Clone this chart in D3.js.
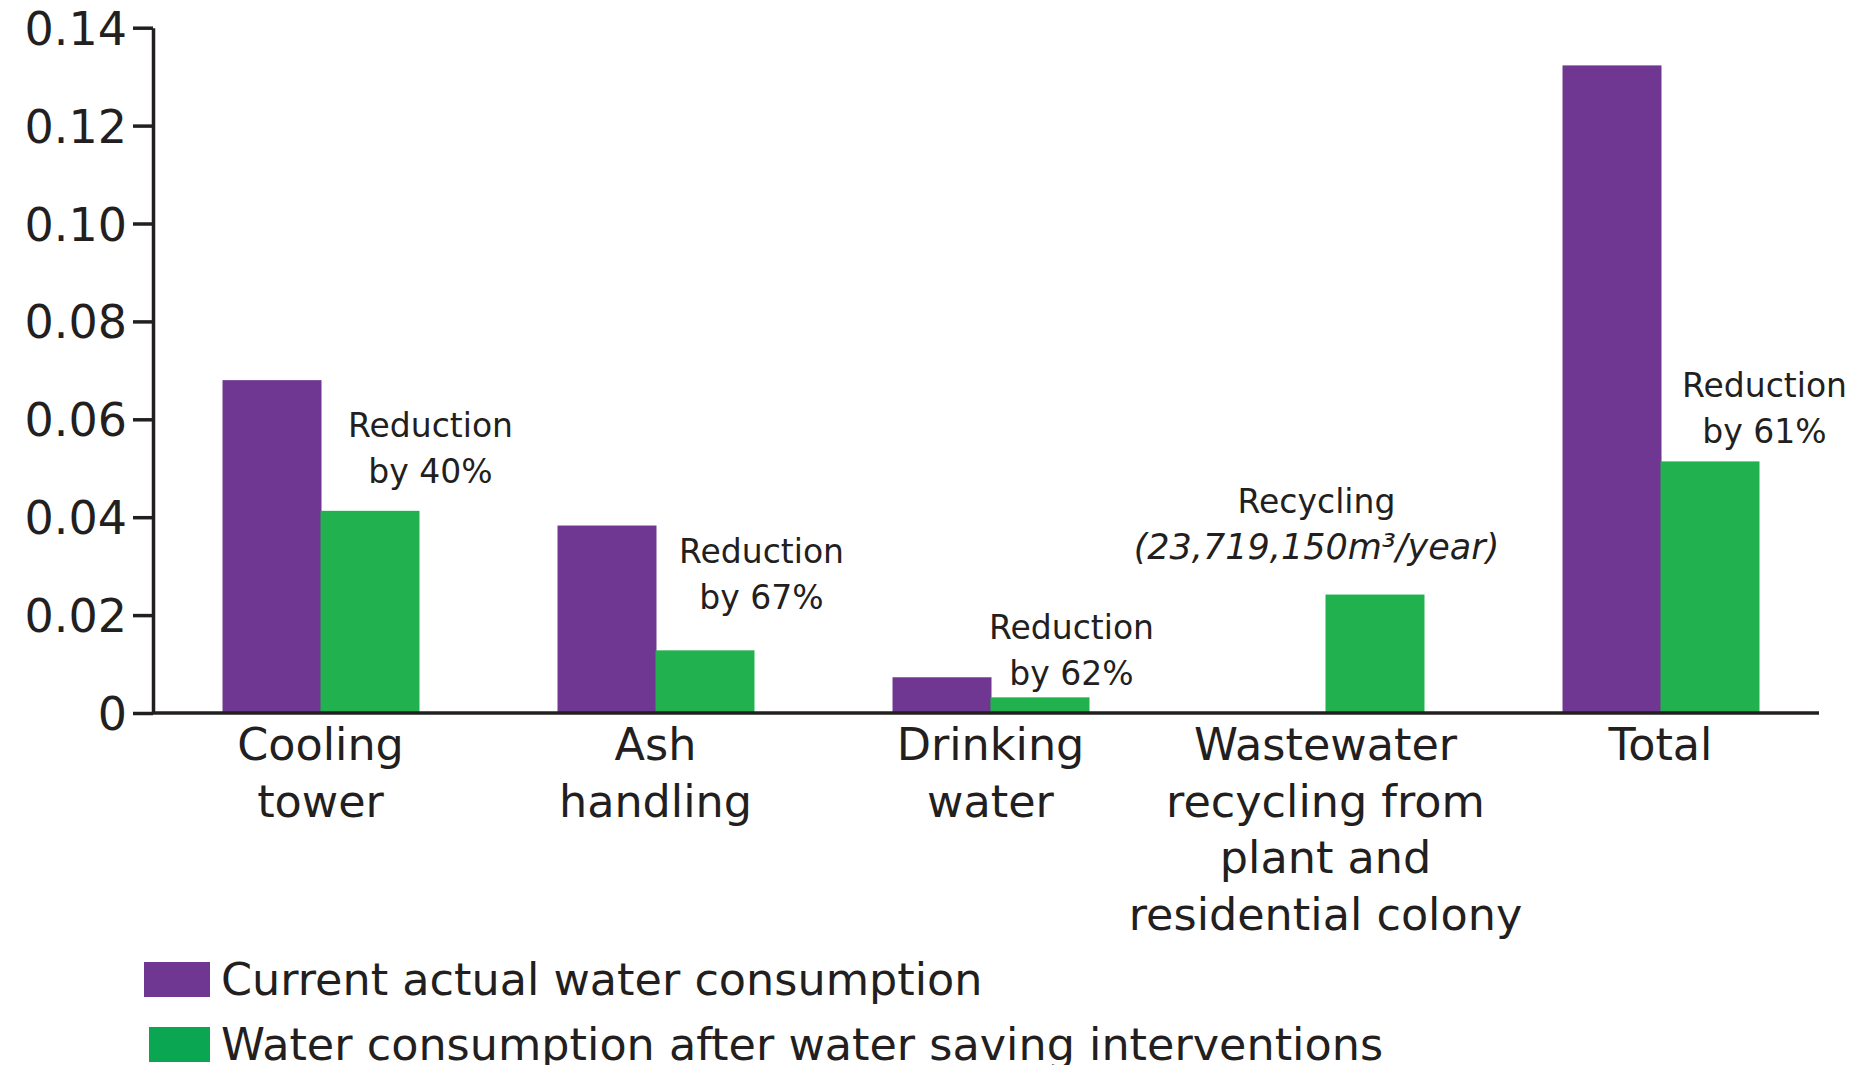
<!DOCTYPE html>
<html>
<head>
<meta charset="utf-8">
<script src="https://cdn.jsdelivr.net/npm/d3@7"></script>
<style>
  html, body { margin: 0; padding: 0; background: #fff; }
  svg { display: block; }
  text { font-family: "DejaVu Sans", sans-serif; fill: #231f20; }
</style>
</head>
<body>
<svg id="chart" width="1862" height="1065"></svg>
<script>
// ---- data ----
const categories = ["Cooling tower", "Ash handling", "Drinking water", "Wastewater recycling from plant and residential colony", "Total"];
const categoryLines = [["Cooling", "tower"], ["Ash", "handling"], ["Drinking", "water"], ["Wastewater", "recycling from", "plant and", "residential colony"], ["Total"]];
const currentValues = [0.068, 0.0383, 0.0073, null, 0.1323];
const afterValues = [0.0413, 0.0128, 0.0032, 0.0242, 0.0514];
const seriesNames = ["Current actual water consumption", "Water consumption after water saving interventions"];
const yTicks = [0, 0.02, 0.04, 0.06, 0.08, 0.10, 0.12, 0.14];
const yTickLabels = ["0", "0.02", "0.04", "0.06", "0.08", "0.10", "0.12", "0.14"];
const annotations = [
  { cat: 0, lines: ["Reduction", "by 40%"] },
  { cat: 1, lines: ["Reduction", "by 67%"] },
  { cat: 2, lines: ["Reduction", "by 62%"] },
  { cat: 3, lines: ["Recycling", "(23,719,150m³/year)"] },
  { cat: 4, lines: ["Reduction", "by 61%"] }
];

// ---- layout ----
const colors = { current: "#6f3791", after: "#21b14f", afterLegend: "#0aa651" };
const svg = d3.select("#chart");
const axisX = 153;
const y = d3.scaleLinear().domain([0, 0.14]).range([713, 27.7]);
const x = d3.scaleBand().domain(categories).range([153, 1828]).paddingInner(0.415).paddingOuter(0.2075);
const xs = d3.scaleBand().domain([0, 1]).range([0, x.bandwidth()]);

// bars
const g = svg.append("g");
categories.forEach((c, i) => {
  [currentValues[i], afterValues[i]].forEach((v, s) => {
    if (v == null) return;
    g.append("rect")
      .attr("x", x(c) + xs(s))
      .attr("width", xs.bandwidth() + 1)
      .attr("y", y(v))
      .attr("height", y(0) - y(v))
      .attr("fill", s === 0 ? colors.current : colors.after);
  });
});

// y axis
const yAxis = d3.axisLeft(y)
  .tickValues(yTicks)
  .tickFormat((d, i) => yTickLabels[i])
  .tickSizeInner(20)
  .tickSizeOuter(0)
  .tickPadding(6);
const ya = svg.append("g").attr("transform", `translate(${axisX},0)`).call(yAxis);
ya.select(".domain").attr("stroke", "#231f20").attr("stroke-width", 3.5);
ya.selectAll(".tick line").attr("stroke", "#231f20").attr("stroke-width", 3.5);
ya.selectAll(".tick text")
  .attr("font-family", "DejaVu Sans, sans-serif")
  .attr("font-size", 46)
  .attr("fill", "#2a2a2a")
  .attr("dy", "0.36em");

// x axis line
svg.append("line")
  .attr("x1", axisX).attr("x2", 1819)
  .attr("y1", y(0)).attr("y2", y(0))
  .attr("stroke", "#231f20").attr("stroke-width", 3.5);

// category labels
categories.forEach((c, i) => {
  const cx = x(c) + x.bandwidth() / 2;
  const t = svg.append("text")
    .attr("x", cx).attr("y", 760)
    .attr("text-anchor", "middle")
    .attr("font-size", 44.5);
  categoryLines[i].forEach((ln, k) => {
    t.append("tspan").attr("x", cx).attr("y", 760 + k * 56.5).text(ln);
  });
});

// annotations (offset from group centre, baseline of first line)
const annoPos = [
  { dx: 110, y: 437 },
  { dx: 106, y: 563 },
  { dx: 81, y: 639 },
  { dx: -9, y: 513 },
  { dx: 104, y: 397 }
];
annotations.forEach((a, i) => {
  const c = categories[a.cat];
  const center = x(c) + x.bandwidth() / 2 + annoPos[i].dx;
  const t = svg.append("text")
    .attr("text-anchor", "middle")
    .attr("font-size", 33);
  a.lines.forEach((ln, k) => {
    const ts = t.append("tspan").attr("x", center).attr("y", annoPos[i].y + k * 46);
    if (i === 3 && k === 1) {
      ts.attr("font-style", "italic").attr("font-size", 35).text(ln);
    } else {
      ts.text(ln);
    }
  });
});

// legend
const legend = svg.append("g");
[0, 1].forEach(s => {
  const ly = s === 0 ? 962 : 1027;
  legend.append("rect")
    .attr("x", s === 0 ? 144 : 149).attr("y", ly)
    .attr("width", s === 0 ? 66 : 61).attr("height", 35)
    .attr("fill", s === 0 ? colors.current : colors.afterLegend);
  legend.append("text")
    .attr("x", 221).attr("y", ly + 33)
    .attr("font-size", 44.5)
    .text(seriesNames[s]);
});
</script>
</body>
</html>
